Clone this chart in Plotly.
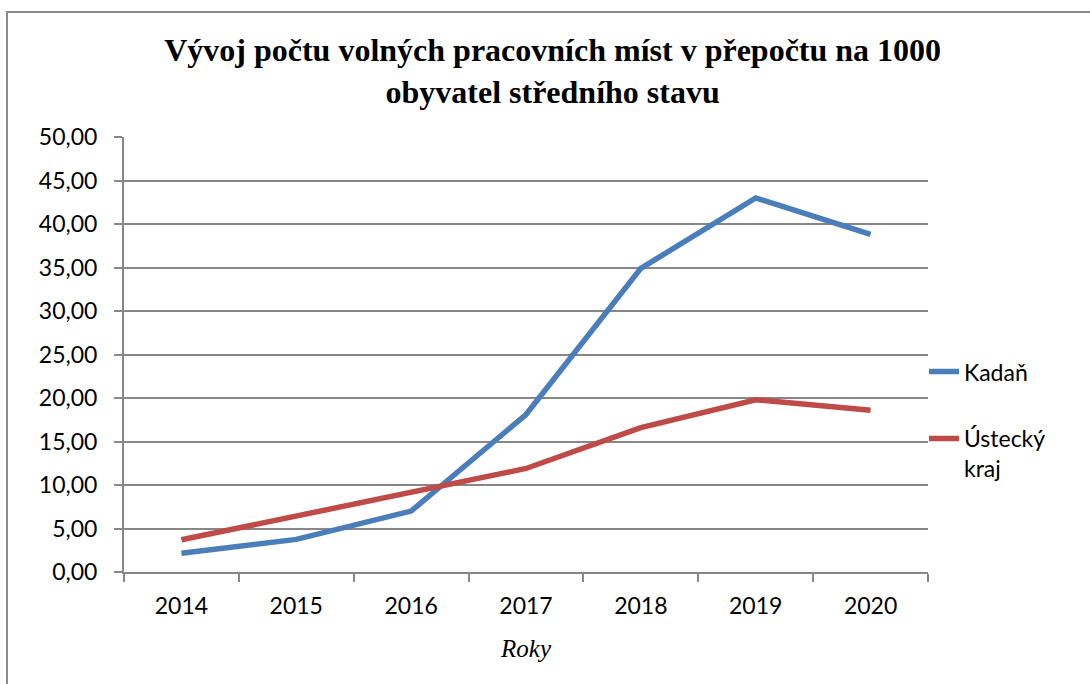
import plotly.graph_objects as go

years = ["2014", "2015", "2016", "2017", "2018", "2019", "2020"]
kadan = [2.15, 3.75, 7.0, 18.1, 34.9, 43.0, 38.8]
ustecky = [3.7, 6.4, 9.1, 11.9, 16.6, 19.8, 18.6]
y_ticks = [0, 5, 10, 15, 20, 25, 30, 35, 40, 45, 50]

grid_col = "#878787"
tick_font = dict(family="Lato", size=23, color="#000000")

fig = go.Figure()
fig.add_trace(go.Scatter(x=years, y=kadan, name="Kadaň", mode="lines", legendgroup="kadan",
                         line=dict(color="#4A7EBB", width=5.5)))
fig.add_trace(go.Scatter(x=years, y=ustecky, name="Ústecký<br>kraj", mode="lines", legendgroup="kraj",
                         line=dict(color="#BE4B48", width=5.5)))

fig.update_layout(
    width=1090,
    height=684,
    margin=dict(l=124, r=162, t=137, b=112),
    plot_bgcolor="white",
    paper_bgcolor="white",
    separators=", ",
    title=dict(
        text="<b>Vývoj počtu volných pracovních míst v přepočtu na 1000<br>obyvatel středního stavu</b>",
        font=dict(family="Liberation Serif", size=32, color="#000000"),
        x=0.507, xref="container", xanchor="center",
        y=1 - 61 / 684, yref="container", yanchor="top",
    ),
    legend=dict(
        x=0.995, xanchor="left", y=0.51, yanchor="top", valign="top",
        font=tick_font, tracegroupgap=34, bgcolor="rgba(0,0,0,0)",
    ),
    shapes=[dict(type="rect", xref="paper", yref="paper",
                 x0=(7 - 124) / 804, x1=2, y0=-1, y1=(572 - 12) / 435,
                 line=dict(color="#8a8a8a", width=2), fillcolor="rgba(0,0,0,0)",
                 layer="below")],
)

fig.update_xaxes(
    type="category",
    range=[-0.5, 6.5],
    tickson="boundaries",
    ticks="outside", ticklen=8, tickcolor=grid_col, tickwidth=1.5,
    showline=True, linecolor=grid_col, linewidth=2,
    showgrid=False,
    tickfont=tick_font,
    ticklabelstandoff=12,
    title=dict(text="<i>Roky</i>", font=dict(family="Liberation Serif", size=25, color="#000000"),
               standoff=22),
)
fig.update_yaxes(
    range=[0, 50],
    tickvals=y_ticks,
    tickformat=".2f",
    ticks="outside", ticklen=8, tickcolor=grid_col, tickwidth=1.5,
    showline=True, linecolor=grid_col, linewidth=2,
    showgrid=True, gridcolor=grid_col, gridwidth=1.5,
    zeroline=False,
    tickfont=tick_font,
    ticklabelstandoff=12,
)

# drop the browser's default body margin so the figure sits at (0, 0)
fig.write_html("out.html", config={"displayModeBar": False},
               post_script="document.body.style.margin='0';")
